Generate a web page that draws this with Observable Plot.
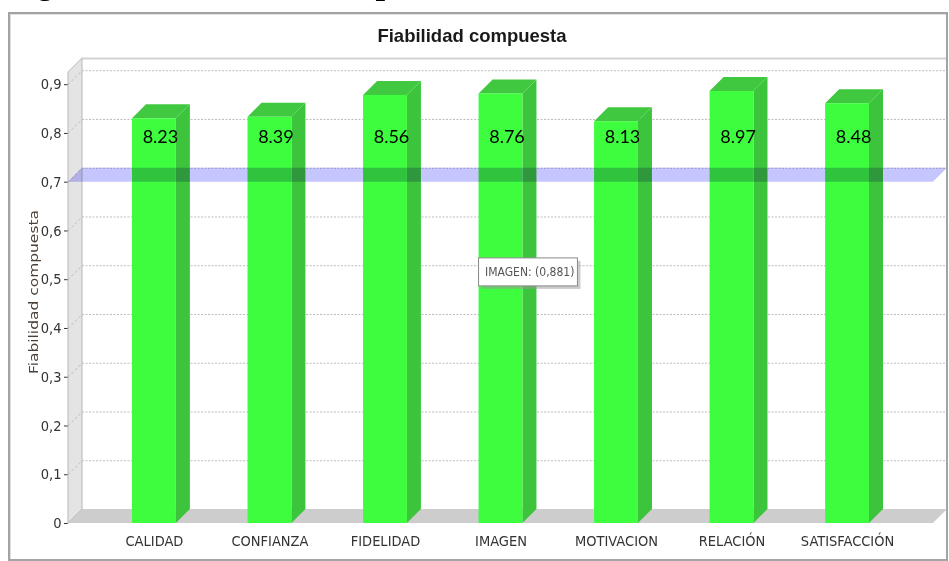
<!DOCTYPE html>
<html><head><meta charset="utf-8">
<script src="https://cdn.jsdelivr.net/npm/d3@7"></script>
<script src="https://cdn.jsdelivr.net/npm/@observablehq/plot@0.6"></script>
<style>
body{margin:0;background:#fff;}
#wrap{position:relative;width:949px;height:561px;overflow:hidden;background:#fff;}
#caption{position:absolute;left:0;top:0;width:949px;height:10px;overflow:hidden;}
#caption span{position:absolute;left:8px;top:-36.5px;font:bold italic 34px "Liberation Serif","DejaVu Serif",serif;line-height:normal;white-space:nowrap;color:#000;}
#title{position:absolute;left:0;top:25px;width:944px;text-align:center;font:bold 18.5px "Liberation Sans",Arial,sans-serif;color:#1a1a1a;}
#frame{position:absolute;left:8px;top:12px;width:936px;height:545px;border:2px solid #a3a3a3;box-shadow:inset 1px 1px 0 #e0e0e0;pointer-events:none;}
#chart{position:absolute;left:0;top:0;}
g[aria-description="side"] rect, g[aria-description="leftwall"] rect, g[aria-description="wallticks"] line{transform-box:fill-box;transform-origin:0 0;transform:skewY(-45deg);}
g[aria-description="top"] rect, g[aria-description="floor"] rect, g[aria-description="band"] rect{transform-box:fill-box;transform-origin:0 100%;transform:skewX(-45deg);}
</style>
</head><body>
<div id="wrap">
  <div id="caption"><span>Figura 10. Fiabilidad compuesta</span></div>
  <div id="chart"></div>
  <div id="title"></div>
  <div id="frame"></div>
</div>
<script>
// ---- data ----
const categories = ["CALIDAD", "CONFIANZA", "FIDELIDAD", "IMAGEN", "MOTIVACION", "RELACIÓN", "SATISFACCIÓN"];
const values = [0.830, 0.833, 0.878, 0.881, 0.824, 0.886, 0.861];
const valueLabels = ["8.23", "8.39", "8.56", "8.76", "8.13", "8.97", "8.48"];
const yTicks = [0, 0.1, 0.2, 0.3, 0.4, 0.5, 0.6, 0.7, 0.8, 0.9];
const threshold = [0.7];
const tooltipAt = [{category: "IMAGEN", y: 0.515}];
const yTitle = "Fiabilidad compuesta";
const chartTitle = "Fiabilidad compuesta";

document.getElementById("title").textContent = chartTitle;

const data = categories.map((c, i) => ({category: c, value: values[i], label: valueLabels[i]}));
const W = 949, H = 561, mL = 68, mR = 16, mT = 72, mB = 38, D = 14;
const pIn = 0.62, pOut = 0.554, yTop = 0.925;
const bw = d3.scaleBand().domain(categories).range([mL, W - mR]).paddingInner(pIn).paddingOuter(pOut).bandwidth();
const innerW = W - mL - mR;
const comma = s => s.replace(".", ",");
const fmt = d => d === 0 ? "0" : comma(d3.format(".1f")(d));
const tipData = tooltipAt.map(t => {
  const v = values[categories.indexOf(t.category)];
  return {...t, text: `${t.category}: (${comma(d3.format(".3f")(v))})`};
});
const NARROW = '"Liberation Sans Narrow","Arial Narrow","DejaVu Sans Condensed","Liberation Sans",Arial,sans-serif';

const chart = Plot.plot({
  width: W, height: H,
  marginLeft: mL, marginRight: mR, marginTop: mT, marginBottom: mB,
  style: {fontFamily: NARROW, fontSize: "14.5px", color: "#333", background: "transparent", overflow: "visible"},
  x: {domain: categories, paddingInner: pIn, paddingOuter: pOut, round: false, label: null, tickSize: 0, tickPadding: 12},
  y: {domain: [0, yTop], ticks: yTicks, tickFormat: fmt, tickSize: 4, tickPadding: 3, label: null},
  marks: [
    Plot.barY([0], {y1: d => d, y2: d => d, insetTop: -D, fill: "#cdcdcd", ariaDescription: "floor"}),
    Plot.barY([yTop], {y1: 0, y2: d => d, insetRight: innerW - D, fill: "#e4e4e4", stroke: "#b8b8b8", strokeWidth: 1, ariaDescription: "leftwall"}),
    Plot.ruleY(yTicks.filter(t => t > 0), {dx: D, dy: -D, stroke: "#bdbdbd", strokeDasharray: "2,1.5", ariaDescription: "grid"}),
    Plot.ruleY(yTicks.filter(t => t > 0), {insetRight: innerW - D, stroke: "#bdbdbd", strokeDasharray: "2,1.5", ariaDescription: "wallticks"}),
    Plot.ruleY([yTop], {dx: D, dy: -D, stroke: "#d2d2d2", strokeWidth: 2, ariaDescription: "walltop"}),
    Plot.barY(data, {x: "category", y: "value", insetLeft: bw, insetRight: -D, fill: "#3cc43c", ariaDescription: "side"}),
    Plot.barY(data, {x: "category", y1: "value", y2: "value", insetTop: -D, fill: "#40c940", ariaDescription: "top"}),
    Plot.barY(data, {x: "category", y: "value", fill: "#3efd3e", ariaDescription: "front"}),
    Plot.barY(threshold, {y1: d => d, y2: d => d, insetTop: -D, fill: "#c6c6ff", mixBlendMode: "multiply", ariaDescription: "band"}),
    Plot.text(data, {x: "category", text: "label", frameAnchor: "top", lineAnchor: "middle", dy: 65, dx: 6,
      fill: "#000", fontSize: 18, fontFamily: "Lato,'Open Sans',sans-serif", ariaDescription: "labels"}),
    Plot.barY(tipData, {x: "category", y1: "y", y2: "y", insetTop: -14, insetBottom: -14, insetRight: -55, dx: 3, dy: 3, fill: "#9a9a9a", fillOpacity: 0.5}),
    Plot.barY(tipData, {x: "category", y1: "y", y2: "y", insetTop: -14, insetBottom: -14, insetRight: -55, fill: "#fff", stroke: "#8a8a8a"}),
    Plot.text(tipData, {x: "category", y: "y", text: "text", textAnchor: "start", dx: -bw / 2 + 6, fill: "#555", fontSize: 12}),
    Plot.text([yTitle], {frameAnchor: "left", rotate: -90, textAnchor: "start", dx: -35, dy: 76, text: d => d, fontSize: 13, fill: "#4a4038", ariaDescription: "ylabel"})
  ]
});
document.getElementById("chart").appendChild(chart);
d3.select(chart).selectAll('g[aria-description="ylabel"] text')
  .attr("textLength", 164).attr("lengthAdjust", "spacingAndGlyphs");
</script>
</body></html>
